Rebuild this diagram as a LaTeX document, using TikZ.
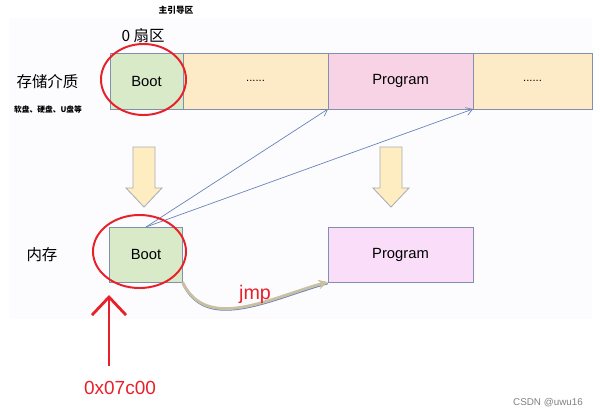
\documentclass[tikz,border=0pt]{standalone}
\usepackage{fontspec}
\setmainfont{Liberation Sans}
\newfontfamily\cjk{Noto Sans CJK SC}
\usetikzlibrary{arrows.meta, positioning}

\definecolor{panelgray}{HTML}{FCFCFE}
\definecolor{cellline}{HTML}{8090B0}
\definecolor{bootgreen}{HTML}{D9EAC9}
\definecolor{gapyellow}{HTML}{FDEBC8}
\definecolor{progpink}{HTML}{F8D3E6}
\definecolor{mempink}{HTML}{FADDF9}
\definecolor{arrowfill}{HTML}{FDEDC0}
\definecolor{arrowline}{HTML}{A8ACB8}
\definecolor{linkblue}{HTML}{6A84B8}
\definecolor{jmptan}{HTML}{C8C0A0}
\definecolor{markred}{HTML}{E8202A}

\begin{document}
\begin{tikzpicture}[
    x=0.025cm, y=-0.025cm,
    node distance=0pt,
    cell/.style={draw=cellline, line width=0.6pt, minimum height=1.4cm,
        inner sep=0pt, outer sep=0pt, font=\fontsize{10.5}{12}\selectfont},
    bootcell/.style={cell, fill=bootgreen, minimum width=1.825cm},
    gapcell/.style={cell, fill=gapyellow, font=\fontsize{8}{10}\selectfont},
    progcell/.style={cell, fill=progpink, minimum width=3.625cm},
    memcell/.style={cell, fill=mempink, minimum width=3.625cm, minimum height=1.375cm},
    lbl/.style={font=\cjk\fontsize{11}{13}\selectfont},
    tinylbl/.style={font=\cjk\bfseries\fontsize{5.5}{6.5}\selectfont},
    blockarr/.style={draw=arrowline, fill=arrowfill, line width=0.6pt},
    loadarr/.style={-{Straight Barb[length=1.6mm, width=2mm]}, draw=linkblue, line width=0.5pt},
    redring/.style={draw=markred, line width=1.4pt},
    addrarr/.style={-{Straight Barb[length=4.5mm, width=8.5mm]}, draw=markred, line width=2pt},
]
    % backdrop
    \useasboundingbox (0,0) rectangle (600,417);
    \fill[panelgray] (9,18) rectangle (592,319);

    % storage row
    \node[bootcell] (boot) at (146.5,81) {Boot};
    \node[gapcell, minimum width=3.625cm, right=of boot] (gap) {......};
    \node[progcell, right=of gap] (prog) {Program};
    \node[gapcell, minimum width=2.975cm, right=of prog] (rest) {......};

    \node[tinylbl, font=\cjk\bfseries\fontsize{6.2}{7}\selectfont] (mbr) at (176,10) {主引导区};
    \node[lbl] (sector) at (143,36) {0 \cjk 扇区};
    \node[lbl] (medium) at (47.5,82) {存储介质};
    \node[tinylbl] (media) at (48,110) {软盘、硬盘、U盘等};

    % load arrows
    \foreach \cx in {144,391}
        \draw[blockarr] (\cx-11,147) -- (\cx+11,147) -- (\cx+11,188) -- (\cx+18,188)
            -- (\cx,207) -- (\cx-18,188) -- (\cx-11,188) -- cycle;

    % memory row
    \node[bootcell, minimum height=1.375cm] (bootm) at (146,254.5) {Boot};
    \node[memcell] (progm) at (400.5,254.5) {Program};
    \node[lbl] (memory) at (42,255) {内存};

    \draw[loadarr] (bootm.north) -- (prog.south west);
    \draw[loadarr] (bootm.north) -- (rest.south west);

    % jump
    \draw[draw=linkblue, line width=0.8pt] ([yshift=-1.2pt]bootm.south east)
        to[out=-65, in=-165] ([yshift=-1.2pt]progm.south west);
    \draw[draw=jmptan, line width=2pt, -{Stealth[length=2.4mm, width=2.4mm]}]
        (bootm.south east) to[out=-65, in=-165] (progm.south west);
    \node[font=\fontsize{14}{16}\selectfont, text=markred] (jmp) at (255,294) {jmp};

    % marks
    \draw[redring] (143.5,79.5) ellipse [x radius=1.0625cm, y radius=0.8875cm];
    \draw[redring] (139.5,251.5) ellipse [x radius=1.1625cm, y radius=0.9125cm];

    \node[font=\fontsize{13.5}{16}\selectfont, text=markred] (addr) at (120,388) {0x07c00};
    \coordinate (addrtail) at (109,366);
    \coordinate (addrtip) at (109,295);
    \draw[addrarr] (addrtail) -- (addrtip);

    \node[font=\fontsize{7}{8}\selectfont, text=gray] (credit) at (548,403) {CSDN @uwu16};
\end{tikzpicture}
\end{document}
